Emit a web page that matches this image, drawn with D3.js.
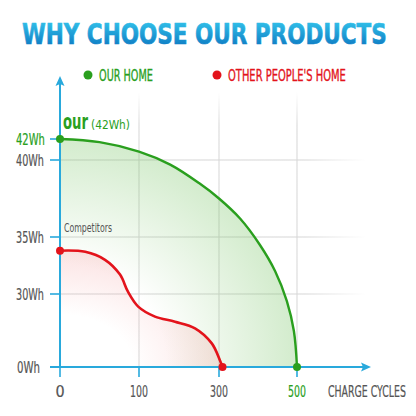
<!DOCTYPE html>
<html><head><meta charset="utf-8">
<script src="https://cdn.jsdelivr.net/npm/d3@7"></script>
<style>
html,body{margin:0;padding:0;background:#fff;}
svg{display:block;}
text{font-family:"DejaVu Sans Condensed","DejaVu Sans",sans-serif;font-stretch:condensed;}
</style></head>
<body>
<svg id="c" width="416" height="416"></svg>
<script>
// ---- data ----
const title = "WHY CHOOSE OUR PRODUCTS";
const seriesNames = ["OUR HOME", "OTHER PEOPLE'S HOME"];
const xTicks = [0, 100, 300, 500];
const yTicks = [0, 30, 35, 40, 42];
const yTickLabels = ["0Wh", "30Wh", "35Wh", "40Wh", "42Wh"];
const xAxisTitle = "CHARGE CYCLES";
const ourCycles = [0, 50, 100, 178, 250, 300, 354, 405, 444, 474, 492, 500];
const ourWh     = [42, 41.7, 40.8, 39.7, 38.5, 37.5, 36.2, 34.3, 32.0, 27.1, 14.8, 0];
const compCycles = [0, 32, 57, 76, 86, 99, 140, 190, 240, 282, 302, 309];
const compWh     = [33.8, 33.7, 33.0, 31.7, 30.2, 24.8, 20.7, 18.6, 15.9, 9.7, 2.9, 0];
const ourLabel = "our", ourValueLabel = "(42Wh)", compLabel = "Competitors";

// ---- styles ----
const AXIS = "#29a9dc", GREEN = "#2a9f1e", RED = "#e3131b", GRAY = "#555", GRID = "#d6d6d6";

const svg = d3.select("#c");
const defs = svg.append("defs");

const x = d3.scaleLinear().domain(xTicks).range([60, 139, 219, 297]);
const y = d3.scaleLinear().domain(yTicks).range([367, 294, 237, 160, 139]);

// place text at (px,py) and squeeze horizontally to width w
function label(px, py, w, anchor){
  const t = svg.append("text").attr("text-anchor", anchor || "start");
  return { t, done(){
    const nat = t.node().getComputedTextLength();
    const sx = w ? w / nat : 1;
    t.attr("transform", `translate(${px},${py}) scale(${sx},1)`);
    return t;
  }};
}
function addText(px, py, w, txt, attrs, anchor){
  const l = label(px, py, w, anchor);
  Object.entries(attrs).forEach(([k,v])=>l.t.attr(k,v));
  l.t.text(txt);
  return l.done();
}

// gradients
const tg = defs.append("linearGradient").attr("id","tg").attr("x1",0).attr("y1",0).attr("x2",0).attr("y2",1);
tg.append("stop").attr("offset","0%").attr("stop-color","#38cdf0");
tg.append("stop").attr("offset","100%").attr("stop-color","#0870bd");

function radial(id, color, op){
  const g = defs.append("radialGradient").attr("id", id)
    .attr("cx",0).attr("cy",1).attr("r",1).attr("fx",0).attr("fy",1);
  g.append("stop").attr("offset","0%").attr("stop-color",color).attr("stop-opacity",0);
  g.append("stop").attr("offset","45%").attr("stop-color",color).attr("stop-opacity",0);
  g.append("stop").attr("offset","100%").attr("stop-color",color).attr("stop-opacity",op);
}
radial("gg", "#6cbf58", 0.30);
radial("rg", "#f08080", 0.22);

const hg = defs.append("linearGradient").attr("id","hg").attr("x1",0).attr("x2",1).attr("y1",0).attr("y2",0);
hg.append("stop").attr("offset","0%").attr("stop-color",GRID).attr("stop-opacity",1);
hg.append("stop").attr("offset","80%").attr("stop-color",GRID).attr("stop-opacity",1);
hg.append("stop").attr("offset","100%").attr("stop-color",GRID).attr("stop-opacity",0);
const vg = defs.append("linearGradient").attr("id","vg").attr("x1",0).attr("x2",0).attr("y1",0).attr("y2",1);
vg.append("stop").attr("offset","0%").attr("stop-color",GRID).attr("stop-opacity",0);
vg.append("stop").attr("offset","12%").attr("stop-color",GRID).attr("stop-opacity",1);
vg.append("stop").attr("offset","100%").attr("stop-color",GRID).attr("stop-opacity",1);

// title
addText(22, 44, 365, title, {"font-size":29, "font-weight":"bold", fill:"url(#tg)", stroke:"url(#tg)", "stroke-width":0.6});

// legend
const leg = [{x:88, c:GREEN, t:seriesNames[0], w:54}, {x:217, c:RED, t:seriesNames[1], w:118}];
leg.forEach(l=>{
  svg.append("circle").attr("cx",l.x).attr("cy",75).attr("r",4.5).attr("fill",l.c);
  addText(l.x+11, 80.5, l.w, l.t, {"font-size":16.5, fill:l.c, stroke:l.c, "stroke-width":0.35});
});

// grid
[30,35,40].forEach(v=>{
  svg.append("rect").attr("x",61).attr("y",y(v)-0.5).attr("width",305).attr("height",1).attr("fill","url(#hg)");
});
xTicks.slice(1).forEach(v=>{
  svg.append("rect").attr("x",x(v)-0.5).attr("y",92).attr("width",1).attr("height",367-92).attr("fill","url(#vg)");
});

// areas and lines
const pts = (xs, ys) => xs.map((d,i)=>[d, ys[i]]);
const ourPts = pts(ourCycles, ourWh), compPts = pts(compCycles, compWh);
const curve = d3.curveCatmullRom.alpha(0.5);
const area = d3.area().x(d=>x(d[0])).y0(y(0)).y1(d=>y(d[1])).curve(curve);
const line = d3.line().x(d=>x(d[0])).y(d=>y(d[1])).curve(curve);

svg.append("path").attr("d", area(ourPts)).attr("fill","url(#gg)");
svg.append("path").attr("d", area(compPts)).attr("fill","url(#rg)");
svg.append("path").attr("d", line(ourPts)).attr("fill","none").attr("stroke",GREEN).attr("stroke-width",2.4);
svg.append("path").attr("d", line(compPts)).attr("fill","none").attr("stroke",RED).attr("stroke-width",2.6);

// axes
svg.append("line").attr("x1",60).attr("x2",60).attr("y1",367).attr("y2",82).attr("stroke",AXIS).attr("stroke-width",2);
svg.append("path").attr("d","M60,76 L64.5,86 L60,84 L55.5,86 Z").attr("fill",AXIS);
svg.append("line").attr("x1",50).attr("x2",364).attr("y1",367).attr("y2",367).attr("stroke",AXIS).attr("stroke-width",2);
svg.append("path").attr("d","M371,367 L361,362.5 L363,367 L361,371.5 Z").attr("fill",AXIS);

// y ticks
const yW = {0:23, 30:28, 35:28, 40:28, 42:29};
yTicks.forEach((v,i)=>{
  svg.append("line").attr("x1",50).attr("x2",60).attr("y1",y(v)).attr("y2",y(v)).attr("stroke",AXIS).attr("stroke-width",1.6);
  const c = v===42 ? GREEN : GRAY;
  addText(v===0?17:16, y(v)+5.5, yW[v], yTickLabels[i], {"font-size":15, fill:c, stroke:c, "stroke-width":0.2});
});
// x ticks
xTicks.forEach(v=>{
  svg.append("line").attr("x1",x(v)).attr("x2",x(v)).attr("y1",367).attr("y2",377).attr("stroke",AXIS).attr("stroke-width",1.6);
  const c = v===500 ? GREEN : GRAY;
  addText(x(v), 397, v===0 ? 0 : 18, String(v), {"font-size":16, fill:c, stroke:c, "stroke-width":0.2}, "middle");
});
addText(328, 397, 78, xAxisTitle, {"font-size":15, fill:GRAY, stroke:GRAY, "stroke-width":0.2});

// dots
[[ourPts[0],GREEN],[ourPts[ourPts.length-1],GREEN],[compPts[0],RED],[compPts[compPts.length-1],RED]].forEach(([p,c])=>{
  svg.append("circle").attr("cx",x(p[0])).attr("cy",y(p[1])).attr("r",4).attr("fill",c);
});

// annotations
addText(63, 129, 25, ourLabel, {"font-size":22, "font-weight":"bold", fill:GREEN});
addText(91, 129, 39, ourValueLabel, {"font-size":13, fill:GREEN});
addText(64, 232, 48, compLabel, {"font-size":12, fill:GRAY});
</script>
</body></html>
